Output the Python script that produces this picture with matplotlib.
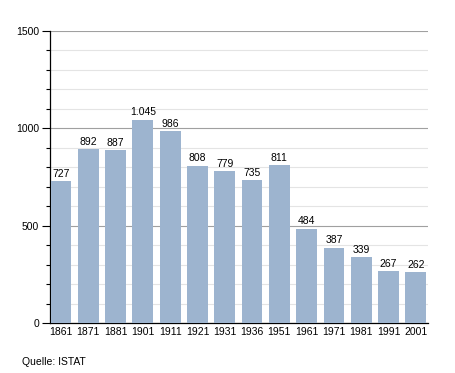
import matplotlib.pyplot as plt
from matplotlib.ticker import MultipleLocator

plt.rcParams["font.family"] = ["Liberation Sans", "DejaVu Sans"]

jahre = ["1861", "1871", "1881", "1901", "1911", "1921", "1931", "1936",
         "1951", "1961", "1971", "1981", "1991", "2001"]
einwohner = [727, 892, 887, 1045, 986, 808, 779, 735, 811, 484, 387, 339, 267, 262]

fig = plt.figure(figsize=(4.55, 3.73), dpi=100)
ax = fig.add_axes([0.110, 0.134, 0.831, 0.783])

x = list(range(len(jahre)))
bars = ax.bar(x, einwohner, width=0.76, color="#9db4cf", zorder=3)

for bar, v in zip(bars, einwohner):
    txt = f"{v:,}".replace(",", ".")
    ax.text(bar.get_x() + bar.get_width() / 2, v + 12, txt,
            ha="center", va="bottom", fontsize=7.5, zorder=4)

ax.set_ylim(0, 1500)
ax.set_xlim(-0.4, 13.45)
ax.yaxis.set_major_locator(MultipleLocator(500))
ax.yaxis.set_minor_locator(MultipleLocator(100))
ax.grid(axis="y", which="major", color="#a0a0a0", linewidth=0.8, zorder=0)
ax.grid(axis="y", which="minor", color="#e4e4e4", linewidth=0.8, zorder=0)

ax.set_xticks(x)
ax.set_xticklabels(jahre)
ax.tick_params(axis="x", length=0, labelsize=7.5, pad=3)
ax.tick_params(axis="y", which="major", length=6, width=0.8, labelsize=7.5, pad=2)
ax.tick_params(axis="y", which="minor", length=3, width=0.8)

for s in ["top", "right"]:
    ax.spines[s].set_visible(False)
ax.spines["left"].set_linewidth(0.9)
ax.spines["bottom"].set_linewidth(0.9)

fig.text(22 / 455, 1 - 362 / 373, "Quelle: ISTAT", fontsize=7.5, va="center", ha="left")

plt.savefig("out.png", dpi=100)
